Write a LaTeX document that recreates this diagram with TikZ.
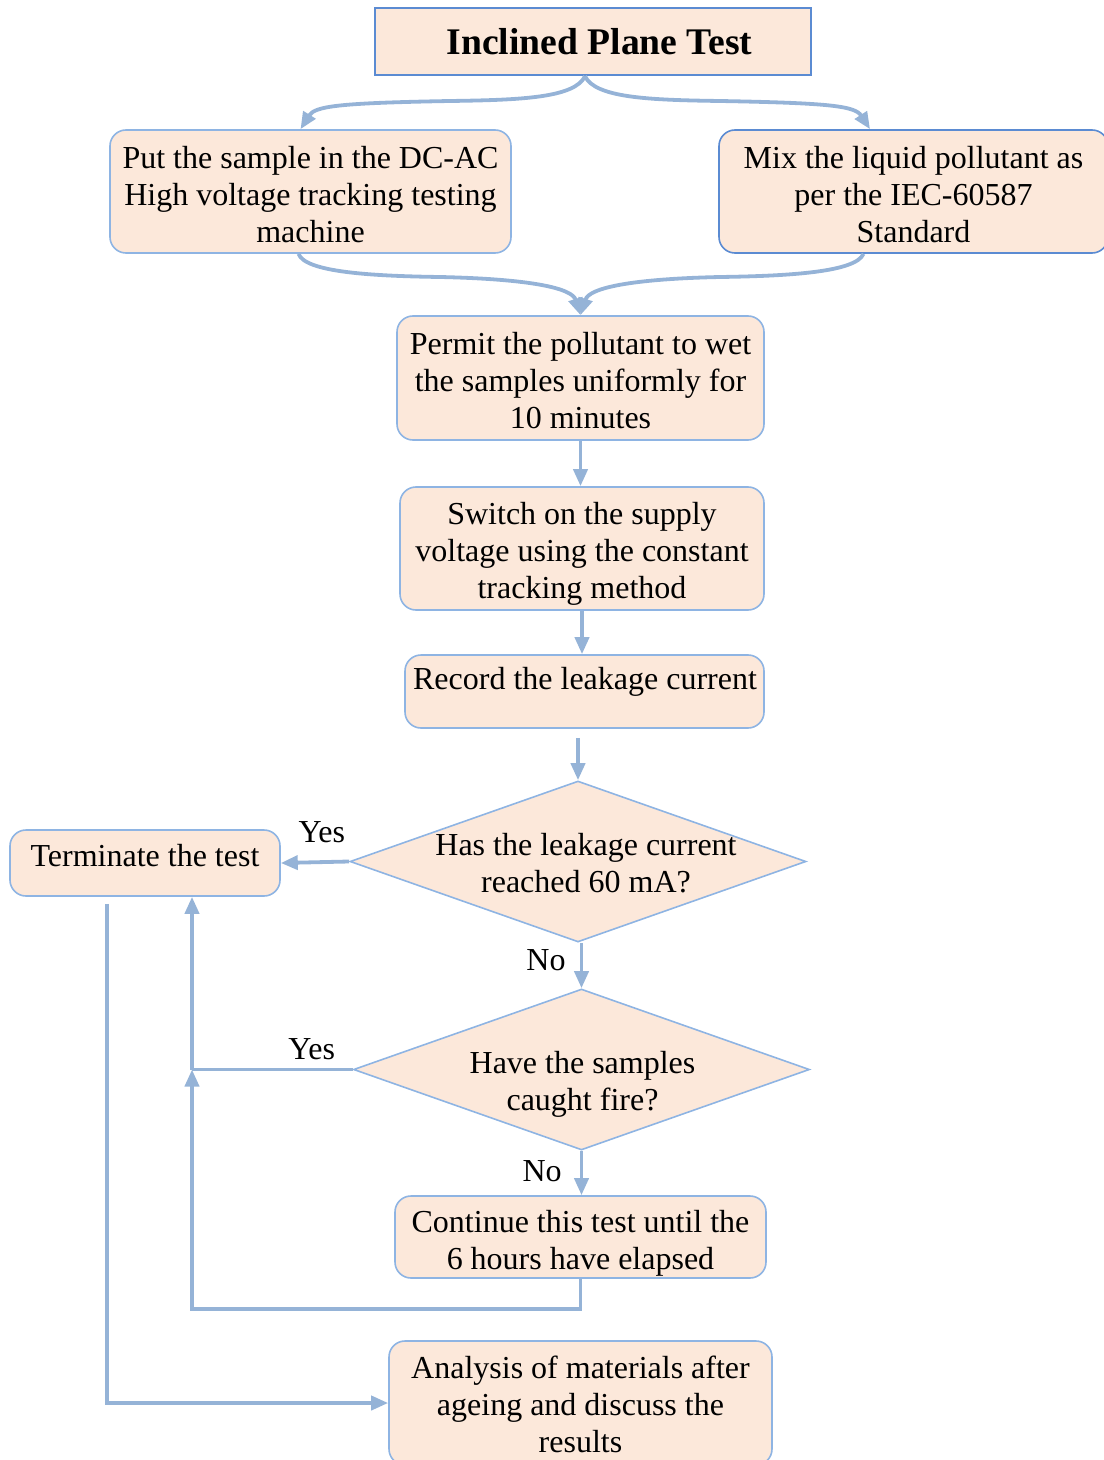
\documentclass[tikz,border=0pt]{standalone}
\usepackage{fontspec}
\setmainfont{Liberation Serif}
\usetikzlibrary{arrows.meta,shapes.geometric}

\definecolor{boxfill}{HTML}{FCE8DA}
\definecolor{edgelight}{HTML}{8EB4E3}
\definecolor{edgedark}{HTML}{5B8BD2}
\definecolor{flow}{HTML}{95B3D7}

\begin{document}
\begin{tikzpicture}[x=0.5pt,y=-0.5pt,
  every node/.style={font=\fontsize{16}{18.5}\selectfont},
  box/.style={draw=edgelight, line width=0.8pt, fill=boxfill,
    rounded corners=8pt, inner sep=0pt},
  darkbox/.style={box, draw=edgedark},
  boxtext/.style={align=center, inner sep=0pt},
  decision/.style={diamond, draw=edgelight, line width=0.8pt, fill=boxfill,
    inner sep=0pt, minimum width=228pt, minimum height=80.5pt},
  flowline/.style={draw=flow, line width=1.9pt},
  flowarrow/.style={flowline, -{Triangle[length=8.5pt,width=7pt]}},
  answer/.style={inner sep=0pt}
]
\useasboundingbox (0,0) rectangle (1103,1460);

% title
\node[draw=edgedark, line width=1.1pt, fill=boxfill, inner sep=0pt,
  minimum width=218pt, minimum height=33.5pt,
  font=\fontsize{18.8}{22}\selectfont\bfseries] (title) at (593,41.5) {\hspace*{6.5pt}Inclined Plane Test};

% preparation steps
\node[box, minimum width=200.5pt, minimum height=61.5pt] (put) at (310.5,191.5) {};
\node[boxtext] (puttext) at ([yshift=-1.5pt]put.center)
  {Put the sample in the DC-AC\\High voltage tracking testing\\machine};
\node[darkbox, minimum width=194.5pt, minimum height=61.5pt] (mix) at (913.5,191.5) {};
\node[boxtext] (mixtext) at ([yshift=-1.5pt]mix.center)
  {Mix the liquid pollutant as\\per the IEC-60587\\Standard};
\node[box, minimum width=183.5pt, minimum height=62pt] (permit) at (580.5,378) {};
\node[boxtext] (permittext) at ([yshift=-1.25pt]permit.center)
  {Permit the pollutant to wet\\the samples uniformly for\\10 minutes};
\node[box, minimum width=182pt, minimum height=61.5pt] (switch) at (582,548.5) {};
\node[boxtext] (switchtext) at ([yshift=-2.75pt]switch.center)
  {Switch on the supply\\voltage using the constant\\tracking method};
\node[box, minimum width=179.5pt, minimum height=36.5pt] (record) at (584.5,691.5) {};
\node[boxtext] (recordtext) at (585,682) {Record the leakage current};

% decisions
\node[decision] (d1) at (578,861.5) {};
\node[boxtext] (d1text) at (586,863) {Has the leakage current\\reached 60 mA?};
\node[decision] (d2) at (581.5,1069.5) {};
\node[boxtext] (d2text) at (582.5,1084) {Have the samples\\caught fire?};

\node[box, minimum width=135pt, minimum height=33pt] (term) at (145,863) {};
\node[boxtext] (termtext) at (145,856) {Terminate the test};

\node[box, minimum width=185.5pt, minimum height=41pt] (cont) at (580.5,1237) {};
\node[boxtext] (conttext) at ([yshift=-3pt]cont.center)
  {Continue this test until the\\6 hours have elapsed};
\node[box, minimum width=191.5pt, minimum height=62pt] (ana) at (580.5,1403) {};
\node[boxtext] (anatext) at ([yshift=-0.5pt]ana.center)
  {Analysis of materials after\\ageing and discuss the\\results};

% helper coordinates
\coordinate (xloop) at (192,0);
\coordinate (xterm) at (107,0);
\coordinate (j1) at (d2.west -| xloop);
\coordinate (rgap) at ([yshift=-4.5pt]record.south);
\coordinate (tstart) at ([yshift=-3.5pt]term.south);

% split and merge braces
\draw[flowarrow] ([xshift=-4pt]title.south) .. controls (575,98) and (520,100) .. (450,101)
  .. controls (340,103) and (315,106) .. ([xshift=-5pt]put.north);
\draw[flowarrow] ([xshift=-4pt]title.south) .. controls (595,98) and (650,100) .. (720,101)
  .. controls (830,103) and (855,106) .. ([xshift=-21.75pt]mix.north);
\draw[flowarrow] ([xshift=-6pt]put.south) .. controls (305,272) and (370,276) .. (440,277)
  .. controls (530,279) and (572,288) .. (permit.north);
\draw[flowarrow] ([xshift=-25pt]mix.south) .. controls (856,272) and (790,276) .. (720,277)
  .. controls (630,279) and (589,288) .. (permit.north);

% main flow
\draw[flowarrow] (permit.south) -- (permit.south |- switch.north);
\draw[flowarrow] (switch.south) -- (switch.south |- record.north);
\draw[flowarrow] (rgap -| d1.north) -- (d1.north);
\draw[flowarrow] (d1.west) -- node[answer, pos=0.4, anchor=base, yshift=10pt] {Yes} (term.east);
\draw[flowarrow] (d1.south -| d2.north) -- node[answer, pos=0.6, anchor=base east, xshift=-7pt] {No} (d2.north);
\draw[flowline] (d2.west) -- node[answer, pos=0.255, anchor=base, yshift=5pt] {Yes} (j1);
\draw[flowarrow] (j1) -- (j1 |- term.south);
\draw[flowarrow] (d2.south) -- node[answer, pos=0.69, anchor=base east, xshift=-9pt] {No} (d2.south |- cont.north);
\draw[flowarrow] (cont.south) -- ++(0,30) -| (j1);
\draw[flowarrow] (tstart -| xterm) |- (ana.west);
\end{tikzpicture}
\end{document}
